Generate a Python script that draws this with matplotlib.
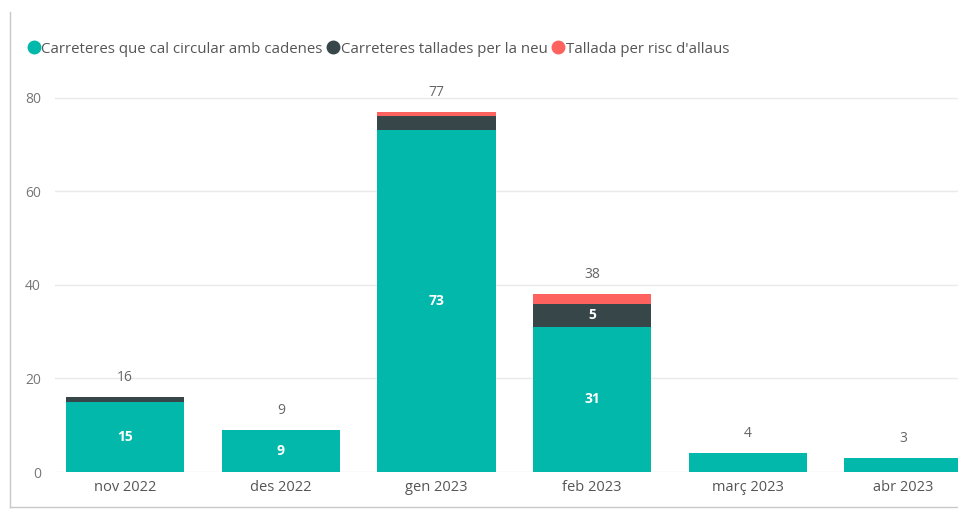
import matplotlib
matplotlib.use("Agg")
import matplotlib.pyplot as plt
from matplotlib.lines import Line2D
import numpy as np

plt.rcParams['font.family'] = ['Open Sans', 'DejaVu Sans']

months = ["nov 2022", "des 2022", "gen 2023", "feb 2023", "març 2023", "abr 2023"]
cadenes = [15, 9, 73, 31, 4, 3]
tallades = [1, 0, 3, 5, 0, 0]
allaus = [0, 0, 1, 2, 0, 0]
series_names = ["Carreteres que cal circular amb cadenes",
                "Carreteres tallades per la neu",
                "Tallada per risc d'allaus"]
colors = ["#01B8AA", "#374649", "#FD625E"]

fig = plt.figure(figsize=(9.58, 5.12), dpi=100)
ax = fig.add_axes([55/958, 40/512, 903/958, (472-79)/512])

x = np.arange(len(months))
width = 0.76
series = [cadenes, tallades, allaus]
bottom = np.zeros(len(months))
for vals, name, col in zip(series, series_names, colors):
    vals = np.array(vals, dtype=float)
    ax.bar(x, vals, width, bottom=bottom, color=col, label=name, zorder=3)
    for xi, v, b in zip(x, vals, bottom):
        if v >= 5:
            ax.text(xi, b + v/2, f"{int(v)}", ha='center', va='center',
                    color='white', fontsize=10, fontweight='bold', zorder=4)
    bottom += vals

for xi, t in zip(x, bottom):
    ax.text(xi, t + 2.6, f"{int(t)}", ha='center', va='bottom',
            color='#666666', fontsize=10)

ax.set_xlim(-0.45, 5.35)
ax.set_ylim(0, 84)
ax.set_yticks([0, 20, 40, 60, 80])
ax.set_xticks(x)
ax.set_xticklabels(months)
ax.tick_params(axis='x', length=0, labelsize=10.5, colors='#555555', pad=6)
ax.tick_params(axis='y', length=0, labelsize=10, colors='#777777', pad=10)
ax.grid(axis='y', color='#EAEAEA', linewidth=1, zorder=0)
for s in ax.spines.values():
    s.set_visible(False)

handles = [Line2D([0], [0], marker='o', color='none', markerfacecolor=c,
                  markeredgecolor=c, markersize=9) for c in colors]
fig.legend(handles, series_names, loc='upper left', bbox_to_anchor=(0.012, 0.945),
           ncol=3, frameon=False, fontsize=10.8, handletextpad=-0.1,
           columnspacing=0.1, handlelength=1.2, labelcolor='#555555')

# visual frame hints
fig.add_artist(Line2D([10/958, 10/958], [5/512, 500/512], color='#C8C8C8', lw=1))
fig.add_artist(Line2D([10/958, 958/958], [5/512, 5/512], color='#C8C8C8', lw=1))

fig.savefig("out.png", dpi=100)
